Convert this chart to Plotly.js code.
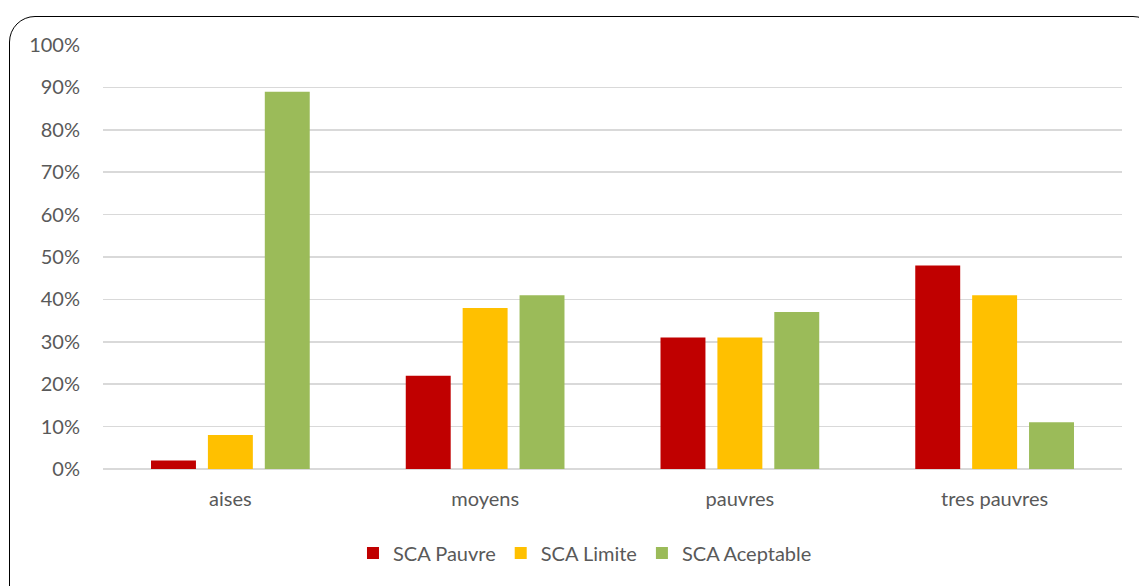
<!DOCTYPE html>
<html>
<head>
<meta charset="utf-8">
<script src="https://cdn.plot.ly/plotly-3.0.1.min.js"></script>
<style>
html,body{margin:0;padding:0;background:#fff;}
#wrap{position:relative;width:1139px;height:586px;overflow:hidden;}
#chart{position:absolute;left:0;top:0;width:1139px;height:586px;}
#frame{position:absolute;left:9px;top:16px;width:1150px;height:600px;border:1.6px solid #000;border-radius:26px;box-sizing:border-box;pointer-events:none;}
</style>
</head>
<body>
<div id="wrap">
<div id="chart"></div>
<div id="frame"></div>
</div>
<script>
const categories = ["aises", "moyens", "pauvres", "tres pauvres"];
const seriesNames = ["SCA Pauvre", "SCA Limite", "SCA Aceptable"];
const pauvre = [2, 22, 31, 48];
const limite = [8, 38, 31, 41];
const aceptable = [89, 41, 37, 11];
const tickValues = [0, 10, 20, 30, 40, 50, 60, 70, 80, 90, 100];
const tickLabels = ["0%", "10%", "20%", "30%", "40%", "50%", "60%", "70%", "80%", "90%", "100%"];

const colors = ["#c00000", "#ffc000", "#9bbb59"];
const values = [pauvre, limite, aceptable];

const traces = values.map((v, i) => ({
  type: "bar",
  name: seriesNames[i],
  x: categories,
  y: v,
  marker: {color: colors[i], line: {width: 0}},
  hoverinfo: "skip"
}));

const font = {family: "Lato, 'Open Sans', sans-serif", size: 20, color: "#595959"};

const layout = {
  width: 1139,
  height: 586,
  paper_bgcolor: "rgba(0,0,0,0)",
  plot_bgcolor: "rgba(0,0,0,0)",
  margin: {l: 103, r: 17, t: 45, b: 117, pad: 0},
  barmode: "group",
  bargap: 0.33,
  bargroupgap: 0.21,
  font: font,
  showlegend: true,
  legend: {
    orientation: "h",
    x: 0.473, xanchor: "center",
    y: -0.198, yanchor: "middle",
    font: font,
    itemwidth: 30,
    traceorder: "normal",
    bgcolor: "rgba(0,0,0,0)"
  },
  xaxis: {
    type: "category",
    showgrid: false,
    showline: false,
    zeroline: false,
    ticks: "",
    ticklabelstandoff: 16,
    tickfont: font
  },
  yaxis: {
    range: [0, 100],
    tickvals: tickValues,
    ticktext: tickLabels,
    showgrid: true,
    gridcolor: "#d9d9d9",
    gridwidth: 1.5,
    zeroline: true,
    zerolinecolor: "#d9d9d9",
    zerolinewidth: 1.5,
    showline: false,
    ticks: "",
    ticklabelstandoff: 22,
    tickfont: font
  }
};

Plotly.newPlot("chart", traces, layout, {staticPlot: true, displayModeBar: false});
</script>
</body>
</html>
